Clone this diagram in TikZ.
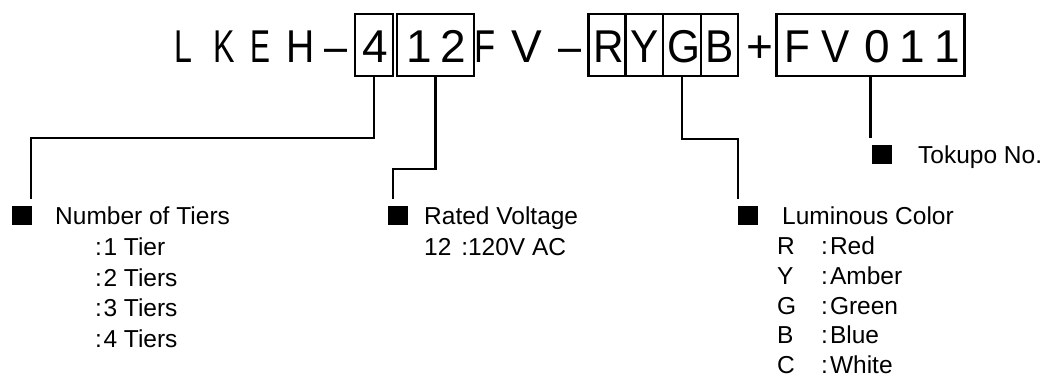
\documentclass[tikz,border=0pt]{standalone}
\usepackage{fontspec}
\setmainfont{Liberation Sans}
\newcommand\sx[2]{\scalebox{#1}[1]{#2}}
\begin{document}
\begin{tikzpicture}[x=1pt,y=-1pt,
  big/.style={font=\fontsize{46pt}{46pt}\selectfont, anchor=base, inner sep=0pt},
  lab/.style={font=\fontsize{24.5pt}{24.5pt}\selectfont, anchor=base west, inner sep=0pt},
  codebox/.style={draw, line width=2.7pt, inner sep=0pt, minimum height=62pt},
  conn/.style={line width=2.7pt},
  marker/.style={fill=black, draw=none, inner sep=0pt, minimum width=20pt, minimum height=19pt}]
\useasboundingbox (0,0) rectangle (1046,378);
% code boxes
\node[codebox, minimum width=38pt] (b4) at (374,45) {};
\node[codebox, minimum width=77pt] (b12) at (435.5,45) {};
\node[codebox, minimum width=37.5pt] (bR) at (607,45) {};
\node[codebox, minimum width=37pt] (bY) at (644.5,45) {};
\node[codebox, minimum width=38pt] (bG) at (682,45) {};
\node[codebox, minimum width=37pt] (bB) at (719.5,45) {};
\node[codebox, minimum width=188pt] (bFV) at (870.5,45) {};
% code characters
\node[big] (cL) at (183,62) {\sx{0.7}{L}};
\node[big] (cK) at (224.5,62) {\sx{0.7}{K}};
\node[big] (cE) at (260.5,62) {\sx{0.65}{E}};
\node[big] (cH) at (301,62) {\sx{0.85}{H}};
\node[big] (cD1) at (336.5,62) {\sx{0.9}{–}};
\node[big] (c4) at (375.5,62) {4};
\node[big] (c1) at (419,62) {1};
\node[big] (c2) at (453.5,62) {2};
\node[big] (cF1) at (485,62) {\sx{0.75}{F}};
\node[big] (cV1) at (527,62) {V};
\node[big] (cD2) at (570.5,62) {\sx{0.9}{–}};
\node[big] (cR) at (609,62) {\sx{0.92}{R}};
\node[big] (cY) at (644.5,62) {\sx{0.92}{Y}};
\node[big] (cG) at (683.5,62) {\sx{0.92}{G}};
\node[big] (cB) at (719.5,62) {\sx{0.92}{B}};
\node[big] (cP) at (760,62) {+};
\node[big] (cF2) at (797,62) {\sx{0.92}{F}};
\node[big] (cV2) at (836,62) {\sx{0.92}{V}};
\node[big] (c0) at (877,62) {0};
\node[big] (c1b) at (912,62) {1};
\node[big] (c1c) at (947,62) {1};
% markers
\node[marker] (m1) at (22,215.5) {};
\node[marker] (m2) at (397.5,215) {};
\node[marker] (m3) at (748,215) {};
\node[marker] (m4) at (881.5,154.5) {};
% connectors
\coordinate (k1) at (31,138);
\coordinate (e1) at (31,199);
\draw[conn] (b4.south) |- (k1) -- (e1);
\coordinate (k2) at (393,169);
\coordinate (e2) at (393,199);
\draw[conn] (b12.south) |- (k2) -- (e2);
\coordinate (k3) at (738,139);
\coordinate (e3) at (738,199);
\draw[conn] (bG.south) |- (k3) -- (e3);
\coordinate (e4) at (870.5,138);
\draw[conn] (bFV.south) -- (e4);
% labels
\node[lab] (t1) at (55,224) {Number of Tiers};
\node[lab] (t1a) at (95,255) {:\kern1.5pt 1 Tier};
\node[lab] (t1b) at (95,286) {:\kern1.5pt 2 Tiers};
\node[lab] (t1c) at (95,316) {:\kern1.5pt 3 Tiers};
\node[lab] (t1d) at (95,347) {:\kern1.5pt 4 Tiers};
\node[lab] (t2) at (424,224) {Rated Voltage};
\node[lab] (t2a) at (424,255) {12 \kern3pt:120V AC};
\node[lab] (t3) at (782,224) {Luminous Color};
\node[lab] (l1) at (777,254) {R};
\node[lab] (l2) at (777,284) {Y};
\node[lab] (l3) at (777,314) {G};
\node[lab] (l4) at (777,343.5) {B};
\node[lab] (l5) at (777,373) {C};
\node[lab] (w1) at (821,254) {:\kern2pt Red};
\node[lab] (w2) at (821,284) {:\kern2pt Amber};
\node[lab] (w3) at (821,314) {:\kern2pt Green};
\node[lab] (w4) at (821,343.5) {:\kern2pt Blue};
\node[lab] (w5) at (821,373) {:\kern2pt White};
\node[lab] (t4) at (918,163) {Tokupo No.};
\end{tikzpicture}
\end{document}
